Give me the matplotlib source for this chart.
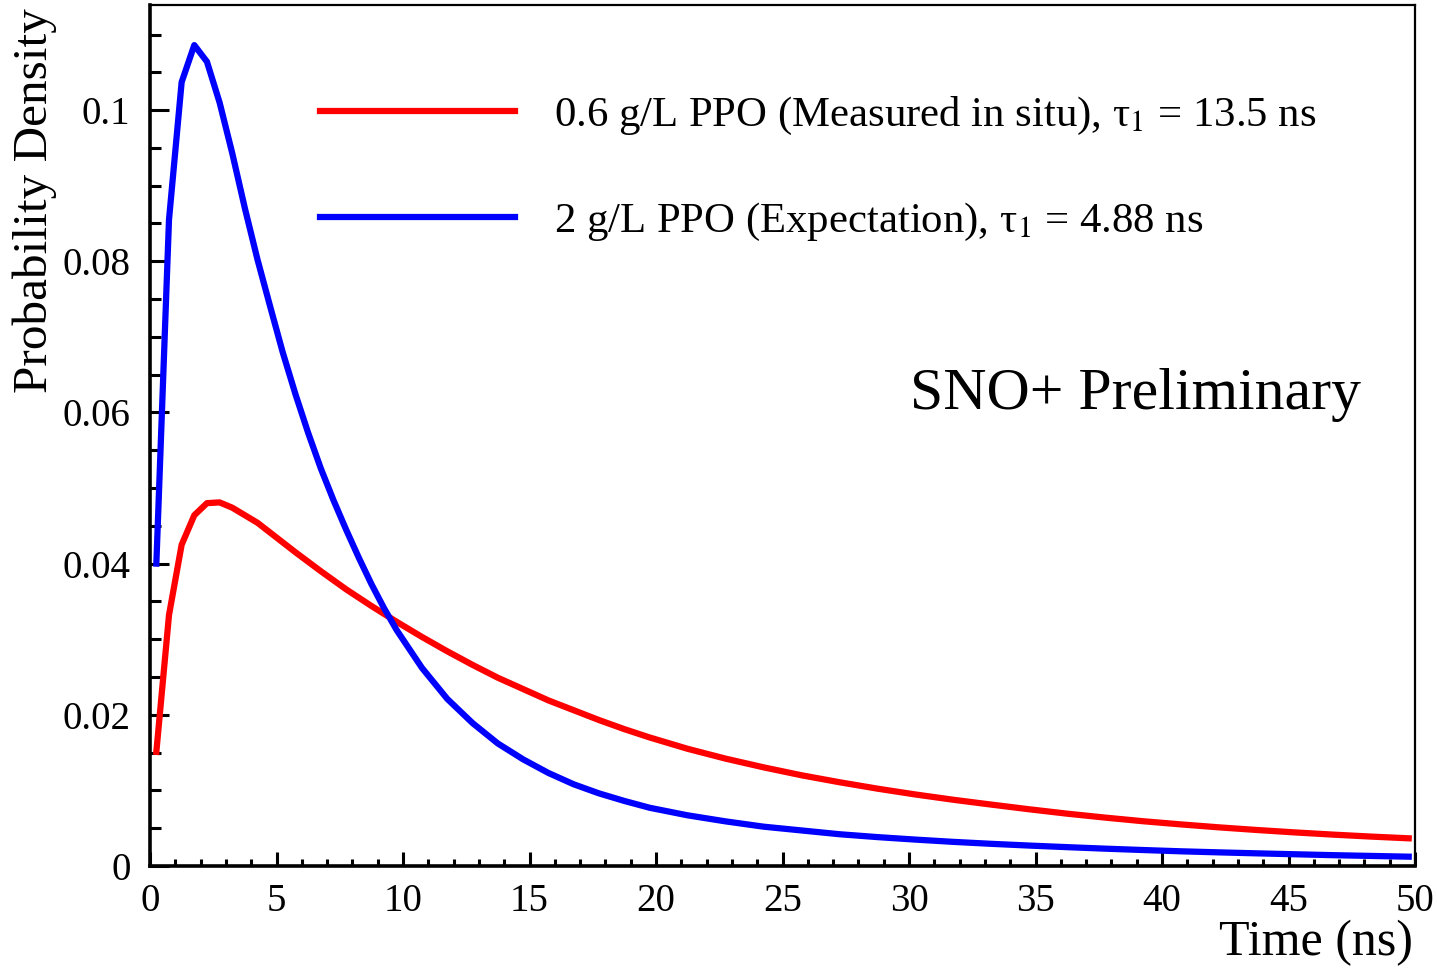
import matplotlib
matplotlib.use("Agg")
import matplotlib.pyplot as plt
from matplotlib.ticker import MultipleLocator

plt.rcParams["font.family"] = ["Liberation Serif", "DejaVu Serif"]
plt.rcParams["mathtext.fontset"] = "stix"

# values (time in ns, probability density)
red_t = [0.25, 0.75, 1.25, 1.75, 2.25, 2.75, 3.25, 3.75, 4.25, 4.75, 5.25, 5.75,
         6.75, 7.75, 8.75, 9.75, 10.75, 11.75, 12.75, 13.75, 14.75, 15.75,
         16.75, 17.75, 18.75, 19.75, 21.25, 22.75, 24.25, 25.75, 27.25, 28.75,
         30.25, 31.75, 33.25, 34.75, 36.25, 37.75, 39.25, 40.75, 42.25, 43.75,
         45.25, 46.75, 48.25, 49.75]
red_pdf = [0.0151, 0.0332, 0.0425, 0.0464, 0.0480, 0.0481, 0.0474, 0.0464, 0.0454, 0.0441, 0.0428, 0.0415,
           0.0390, 0.0366, 0.0344, 0.0323, 0.0303, 0.0284, 0.0266, 0.0249, 0.0234, 0.0219,
           0.0206, 0.0193, 0.0181, 0.0170, 0.0155, 0.0142, 0.01305, 0.0120, 0.01108, 0.01023,
           0.00946, 0.00876, 0.00812, 0.0075, 0.00692, 0.0064, 0.00592, 0.0055, 0.00511, 0.00476,
           0.00444, 0.00415, 0.00389, 0.00366]

blue_t = [0.25, 0.75, 1.25, 1.75, 2.25, 2.75, 3.25, 3.75, 4.25, 4.75, 5.25, 5.75,
          6.25, 6.75, 7.25, 7.75, 8.25, 8.75, 9.25, 9.75, 10.75, 11.75, 12.75,
          13.75, 14.75, 15.75, 16.75, 17.75, 18.75, 19.75, 21.25, 22.75, 24.25,
          25.75, 27.25, 28.75, 30.25, 31.75, 33.25, 34.75, 36.25, 37.75, 39.25,
          40.75, 42.25, 43.75, 45.25, 46.75, 48.25, 49.75]
blue_pdf = [0.0400, 0.0855, 0.1037, 0.1086, 0.1064, 0.1010, 0.0943, 0.0870, 0.0802, 0.0740, 0.0679, 0.0624,
            0.0573, 0.0526, 0.0484, 0.0445, 0.0408, 0.0373, 0.0341, 0.0312, 0.0262, 0.0221, 0.0189,
            0.0162, 0.0141, 0.0123, 0.0108, 0.0096, 0.0086, 0.0077, 0.0067, 0.0059, 0.0052,
            0.0047, 0.0042, 0.00382, 0.00349, 0.00319, 0.00293, 0.0027, 0.00249, 0.00229, 0.00211,
            0.00194, 0.0018, 0.00167, 0.00155, 0.00143, 0.00133, 0.00123]

red_label = "0.6 g/L PPO (Measured in situ), τ$_{1}$ = 13.5 ns"
blue_label = "2 g/L PPO (Expectation), τ$_{1}$ = 4.88 ns"

fig = plt.figure(figsize=(14.37, 9.68), dpi=100)
ax = fig.add_axes([0.1044, 0.1054, 0.8803, 0.8894])

ax.plot(red_t, red_pdf, color="#ff0000", lw=4.5, label=red_label)
ax.plot(blue_t, blue_pdf, color="#0000ff", lw=4.5, label=blue_label)

ax.set_xlim(0, 50)
ax.set_ylim(0, 0.1139)

ax.xaxis.set_major_locator(MultipleLocator(5))
ax.xaxis.set_minor_locator(MultipleLocator(1))
ax.yaxis.set_minor_locator(MultipleLocator(0.005))
ax.set_yticks([0, 0.02, 0.04, 0.06, 0.08, 0.1])
ax.set_yticklabels(["0", "0.02", "0.04", "0.06", "0.08", "0.1"])

ax.tick_params(axis="both", which="both", direction="in", top=False, right=False,
               labelsize=28, width=2.2, color="black")
ax.tick_params(axis="y", which="major", length=14, pad=14)
ax.tick_params(axis="y", which="minor", length=8)
ax.tick_params(axis="x", which="major", length=10, pad=12)
ax.tick_params(axis="x", which="minor", length=5)

for side in ["left", "bottom"]:
    ax.spines[side].set_linewidth(2.6)
for side in ["top", "right"]:
    ax.spines[side].set_linewidth(1.6)

fig.text(35 / 1437, 1 - 8 / 968, "Probability Density", rotation=90,
         ha="center", va="top", fontsize=35.5)
fig.text(1413 / 1437, 1 - 943 / 968, "Time (ns)", ha="right", va="center", fontsize=36)

ax.text(0.6008, 0.547, "SNO+ Preliminary", transform=ax.transAxes,
        ha="left", va="center", fontsize=43)

ax.legend(loc="upper left", bbox_to_anchor=(0.1344, 0.8955), frameon=False,
          fontsize=30.8, handlelength=4.55, handletextpad=0.93, labelspacing=1.50,
          borderpad=0, borderaxespad=0)

fig.savefig("out.png", dpi=100)
